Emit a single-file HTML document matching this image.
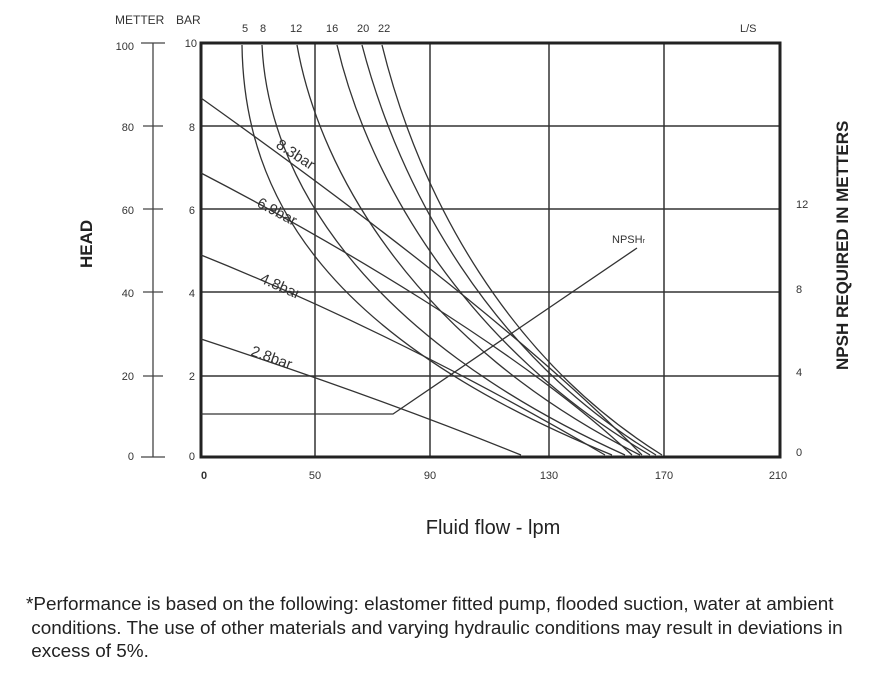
<!DOCTYPE html>
<html><head><style>
body{margin:0;background:#fff;width:880px;height:684px;overflow:hidden;font-family:"Liberation Sans",sans-serif;}
.note{position:absolute;left:26px;top:593px;font-size:18.9px;line-height:23.5px;color:#222;width:860px;white-space:nowrap;}
</style></head><body>
<svg width="880" height="684" style="position:absolute;left:0;top:0" font-family="Liberation Sans, sans-serif">
<g fill="#333" font-size="11">
<text x="115" y="24" font-size="12">METTER</text><text x="176" y="24" font-size="12">BAR</text>
<text x="242" y="32">5</text><text x="260" y="32">8</text><text x="290" y="32">12</text><text x="326" y="32">16</text><text x="357" y="32">20</text><text x="378" y="32">22</text>
<text x="740" y="32">L/S</text>
<g text-anchor="end">
<text x="134" y="50">100</text><text x="134" y="131">80</text><text x="134" y="214">60</text><text x="134" y="297">40</text><text x="134" y="380">20</text><text x="134" y="460">0</text>
<text x="197" y="47">10</text><text x="195" y="131">8</text><text x="195" y="214">6</text><text x="195" y="297">4</text><text x="195" y="380">2</text><text x="195" y="460">0</text>
</g>
<text x="796" y="208">12</text><text x="796" y="293">8</text><text x="796" y="376">4</text><text x="796" y="456">0</text>
<g text-anchor="middle">
<text x="204" y="479" font-weight="bold">0</text><text x="315" y="479">50</text><text x="430" y="479">90</text><text x="549" y="479">130</text><text x="664" y="479">170</text><text x="778" y="479">210</text>
</g>
<text x="612" y="243">NPSH<tspan font-size="7">r</tspan></text>
</g>
<g stroke="#444" stroke-width="1.3" fill="none">
<line x1="153" y1="43" x2="153" y2="457"/>
<line x1="141" y1="43" x2="165" y2="43"/><line x1="143" y1="126" x2="163" y2="126"/><line x1="143" y1="209" x2="163" y2="209"/><line x1="143" y1="292" x2="163" y2="292"/><line x1="143" y1="376" x2="163" y2="376"/><line x1="141" y1="457" x2="165" y2="457"/>
</g>
<g stroke="#333" stroke-width="1.5" fill="none">
<line x1="315" y1="43" x2="315" y2="457"/><line x1="430" y1="43" x2="430" y2="457"/><line x1="549" y1="43" x2="549" y2="457"/><line x1="664" y1="43" x2="664" y2="457"/>
<line x1="201" y1="126" x2="780" y2="126"/><line x1="201" y1="209" x2="780" y2="209"/><line x1="201" y1="292" x2="780" y2="292"/><line x1="201" y1="376" x2="780" y2="376"/>
</g>
<rect x="201" y="43" width="579" height="414" fill="none" stroke="#222" stroke-width="3"/>
<g stroke="#333" stroke-width="1.3" fill="none">
<path d="M242,45 C244,200 330,340 612,455"/>
<path d="M262,45 C268,175 360,335 625,455"/>
<path d="M297,45 C320,175 420,345 640,455"/>
<path d="M337,45 C370,185 470,350 650,455"/>
<path d="M362,45 C400,190 490,355 656,455"/>
<path d="M382,45 C420,200 510,360 662,455"/>
<path d="M201,98 C330,190 520,330 642,455"/>
<path d="M201,173 C330,240 520,350 632,455"/>
<path d="M201,255 Q400,335 605,455"/>
<path d="M201,339 Q380,398 521,455"/>
<path d="M201,414 L393,414 L637,248"/>
</g>
<g fill="#333" font-size="15">
<text transform="translate(275,147) rotate(33)">8.3bar</text>
<text transform="translate(256,206) rotate(28)">6.9bar</text>
<text transform="translate(259,282) rotate(24)">4.8bar</text>
<text transform="translate(250,355) rotate(20)">2.8bar</text>
</g>
<text transform="translate(92,268) rotate(-90)" font-size="17" font-weight="bold" fill="#222">HEAD</text>
<text transform="translate(848,370) rotate(-90)" font-size="17" font-weight="bold" fill="#222">NPSH REQUIRED IN METTERS</text>
<text x="493" y="534" text-anchor="middle" font-size="20" fill="#222">Fluid flow - lpm</text>
</svg>
<div class="note">*Performance is based on the following: elastomer fitted pump, flooded suction, water at ambient<br>&nbsp;conditions. The use of other materials and varying hydraulic conditions may result in deviations in<br>&nbsp;excess of 5%.</div>
</body></html>
